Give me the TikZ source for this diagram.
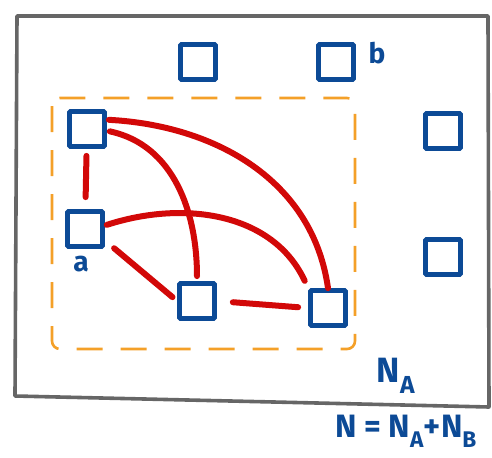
\documentclass[tikz,border=0pt]{standalone}
\usepackage{fontspec}
\setsansfont{Fira Sans}
\usepackage{xcolor}
\usetikzlibrary{positioning}
\definecolor{nbleu}{HTML}{0C4A96}
\definecolor{nrouge}{HTML}{D20808}
\definecolor{norange}{HTML}{F4A028}
\definecolor{ngris}{HTML}{666666}

\begin{document}
\begin{tikzpicture}[x=0.5mm, y=-0.5mm, every node/.style={font=\sffamily},
  site/.style={draw=nbleu, line width=2.4mm, minimum size=17.5mm, inner sep=0pt, rounded corners=0.5mm},
  lien/.style={draw=nrouge, line width=3mm, line cap=round},
  etiq/.style={text=nbleu, inner sep=0pt, font=\sffamily\bfseries\fontsize{40}{40}\selectfont}]
  \useasboundingbox (0,0) rectangle (492,458);
  % cadre N
  \draw[ngris, line width=1.8mm, line join=round] (17,16) -- (488,16) -- (489,407) -- (15,396) -- cycle;
  % zone A
  \draw[norange, line width=1.3mm, dash pattern=on 13mm off 9mm, rounded corners=4mm] (52,98) rectangle (355,349);
  % sites
  \node[site] (s1) at (198,62) {};
  \node[site] (sb) at (336,62) {};
  \node[site] (sr1) at (443,131) {};
  \node[site] (sr2) at (443,257) {};
  \node[site] (sa1) at (87,129) {};
  \node[site] (sa) at (85,229) {};
  \node[site] (sm) at (197,301) {};
  \node[site] (sd) at (328,308) {};
  % liens dans A
  \draw[lien, shorten <=3.5mm, shorten >=6mm] (sa1) -- (sa);
  \draw[lien, shorten <=1mm] (sa1.25) to[out=-3, in=98] (sd.north);
  \draw[lien, shorten <=1.5mm, shorten >=2.5mm] (sa1.-5) to[out=-12, in=90] (sm.north);
  \draw[lien, shorten <=1mm, shorten >=4mm] (sa.10) to[out=18, in=115] (sd.north west);
  \draw[lien, shorten <=6mm, shorten >=3mm] (sa.-30) -- (sm.west);
  \draw[lien, shorten <=8mm, shorten >=5mm] (sm.east) -- (sd.west);
  % textes
  \node[etiq] (lb) at (377,53) {b};
  \node[etiq] (la) at (81,264) {a};
  \node[etiq, font=\sffamily\bfseries\fontsize{50}{50}\selectfont] (lna) at (396,376) {N\textsubscript{A}};
  \node[etiq, font=\sffamily\bfseries\fontsize{46}{46}\selectfont] (lnn) at (406,431) {N = N\textsubscript{A}+N\textsubscript{B}};
\end{tikzpicture}
\end{document}
